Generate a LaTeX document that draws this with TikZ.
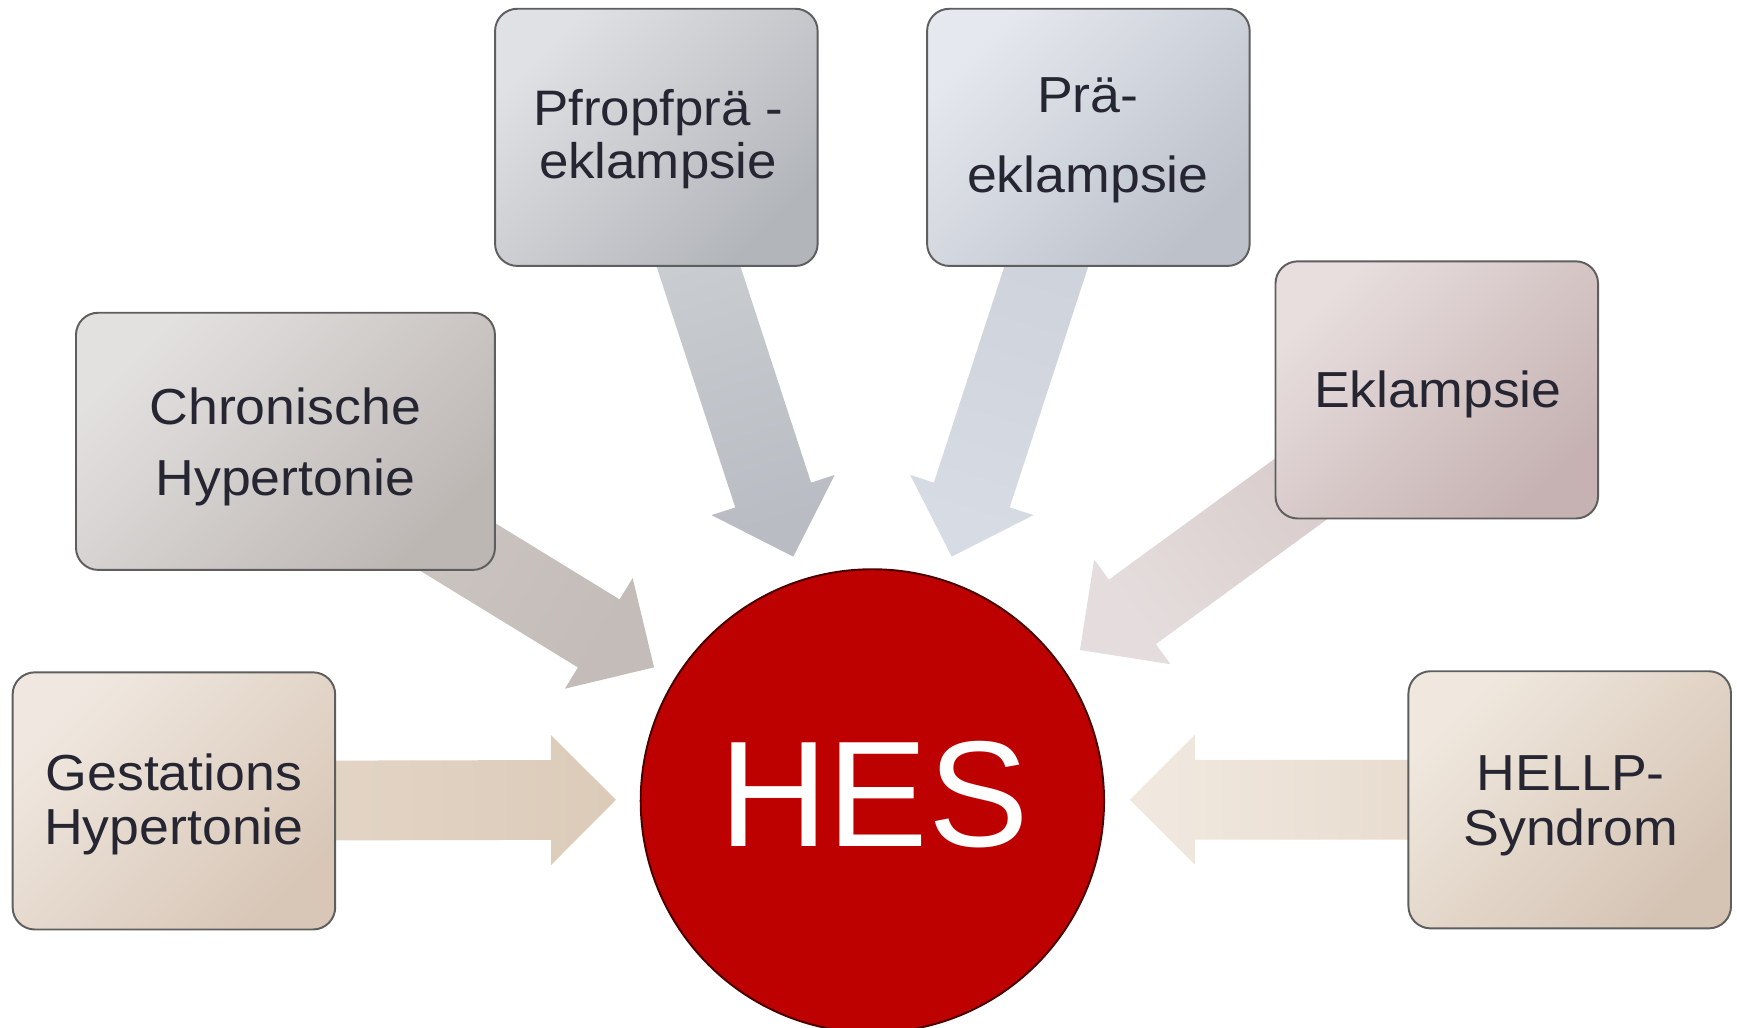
\documentclass[tikz,border=0pt]{standalone}
\usepackage{fontspec}
\setmainfont{Liberation Sans}
\newfontfamily\boxfont[FakeStretch=1.06]{Liberation Sans}
\usetikzlibrary{calc}
\pgfdeclarelayer{bg}
\pgfsetlayers{bg,main}
\definecolor{txtcol}{HTML}{262633}
\definecolor{bordercol}{HTML}{5E5E5E}
\definecolor{hesred}{HTML}{BD0000}
\definecolor{hesedge}{HTML}{4A0000}
% box colours (light, dark)
\definecolor{gestA}{HTML}{F0E8E0}\definecolor{gestB}{HTML}{D8C7B7}
\definecolor{chroA}{HTML}{E3E1E0}\definecolor{chroB}{HTML}{BDB7B4}
\definecolor{pfroA}{HTML}{E0E1E4}\definecolor{pfroB}{HTML}{B2B5BA}
\definecolor{praeA}{HTML}{E5E8EE}\definecolor{praeB}{HTML}{BCC1CA}
\definecolor{eklaA}{HTML}{E8DEDE}\definecolor{eklaB}{HTML}{C6B2B2}
\definecolor{hellA}{HTML}{F0E8DE}\definecolor{hellB}{HTML}{D5C4B4}
% arrow colours (source side, tip side)
\definecolor{agestS}{HTML}{E6D9CB}\definecolor{agestT}{HTML}{DCCBB9}
\definecolor{achroS}{HTML}{D0CAC7}\definecolor{achroT}{HTML}{C3BCB9}
\definecolor{apfroS}{HTML}{CFD2D6}\definecolor{apfroT}{HTML}{B9BDC3}
\definecolor{apraeS}{HTML}{CBD0D9}\definecolor{apraeT}{HTML}{D7DBE3}
\definecolor{aeklaS}{HTML}{D2C3C3}\definecolor{aeklaT}{HTML}{E5DDDD}
\definecolor{ahellS}{HTML}{E3D5C6}\definecolor{ahellT}{HTML}{F1E9E0}
\tikzset{
  srcbox/.style={rectangle, rounded corners=0.2cm, draw=bordercol, line width=0.5pt,
    minimum width=2.91cm, minimum height=2.32cm, inner sep=0pt},
  lbl/.style={align=center, text=txtcol, inner sep=0pt, anchor=base},
}
\newcommand\hesarrow[4]{%
  \path let \p1=($(#1.center)-(#2)$) in
    \pgfextra{\pgfmathparse{atan2(\y1,\x1)-90}\xdef\arrang{\pgfmathresult}};
  \begin{pgfonlayer}{bg}
  \path ($(#2)!0.585cm!(#1.center)$) coordinate (hb-#1);
  \shade[top color=#3, bottom color=#4, shading angle=\arrang]
    ($(#1.center)!0.36cm!90:(#2)$) -- ($(hb-#1)!0.36cm!-90:(#1.center)$)
    -- ($(hb-#1)!0.585cm!-90:(#1.center)$) -- (#2)
    -- ($(hb-#1)!0.585cm!90:(#1.center)$) -- ($(hb-#1)!0.36cm!90:(#1.center)$)
    -- ($(#1.center)!0.36cm!-90:(#2)$) -- cycle;
  \end{pgfonlayer}}
\begin{document}
\begin{tikzpicture}[x=0.01cm, y=-0.01cm]
\useasboundingbox (0,0) rectangle (1568,928);
% central circle
\node[circle, minimum size=4.18cm, inner sep=0pt, fill=hesred, draw=hesedge, line width=0.5pt] (hes) at (787.5,723) {};
\node[anchor=base, inner sep=0pt, text=white, font=\fontsize{38.7}{40}\selectfont] (hesT) at (789,764.6) {HES};
% boxes
\node[srcbox, top color=gestA, bottom color=gestB, shading angle=45] (gest) at (157,723) {};
\node[srcbox, minimum width=3.78cm, top color=chroA, bottom color=chroB, shading angle=45] (chro) at (257.7,398.4) {};
\node[srcbox, top color=pfroA, bottom color=pfroB, shading angle=45] (pfro) at (592.5,124) {};
\node[srcbox, top color=praeA, bottom color=praeB, shading angle=45] (prae) at (982.5,124) {};
\node[srcbox, top color=eklaA, bottom color=eklaB, shading angle=45] (ekla) at (1297,352) {};
\node[srcbox, top color=hellA, bottom color=hellB, shading angle=45] (hell) at (1417,722) {};
% labels (base anchor = baseline of the last line)
\node[lbl, font=\boxfont\fontsize{13}{13.9}\selectfont] (gestT) at (157,762.5) {Gestations\\Hypertonie};
\node[lbl, font=\boxfont\fontsize{13}{18.2}\selectfont] (chroT) at (257.5,447.5) {Chronische\\Hypertonie};
\node[lbl, font=\boxfont\fontsize{12.8}{13.6}\selectfont] (pfroT) at (594,161) {Pfropfprä -\\eklampsie};
\node[lbl, font=\boxfont\fontsize{13}{20.5}\selectfont] (praeT) at (982,174) {Prä-\\eklampsie};
\node[lbl, font=\boxfont\fontsize{13}{14}\selectfont] (eklaT) at (1298,367.5) {Eklampsie};
\node[lbl, font=\boxfont\fontsize{13}{14}\selectfont] (hellT) at (1418,763) {HELLP-\\Syndrom};
% arrow tips
\coordinate (tipgest) at (556,722);
\coordinate (tipchro) at (590.4,602.4);
\coordinate (tippfro) at (716.1,502.5);
\coordinate (tipprae) at (859.1,502.5);
\coordinate (tipekla) at (974.9,586.8);
\coordinate (tiphell) at (1020,722);
% block arrows
\hesarrow{gest}{tipgest}{agestS}{agestT}
\hesarrow{chro}{tipchro}{achroS}{achroT}
\hesarrow{pfro}{tippfro}{apfroS}{apfroT}
\hesarrow{prae}{tipprae}{apraeS}{apraeT}
\hesarrow{ekla}{tipekla}{aeklaS}{aeklaT}
\hesarrow{hell}{tiphell}{ahellS}{ahellT}
\end{tikzpicture}
\end{document}
